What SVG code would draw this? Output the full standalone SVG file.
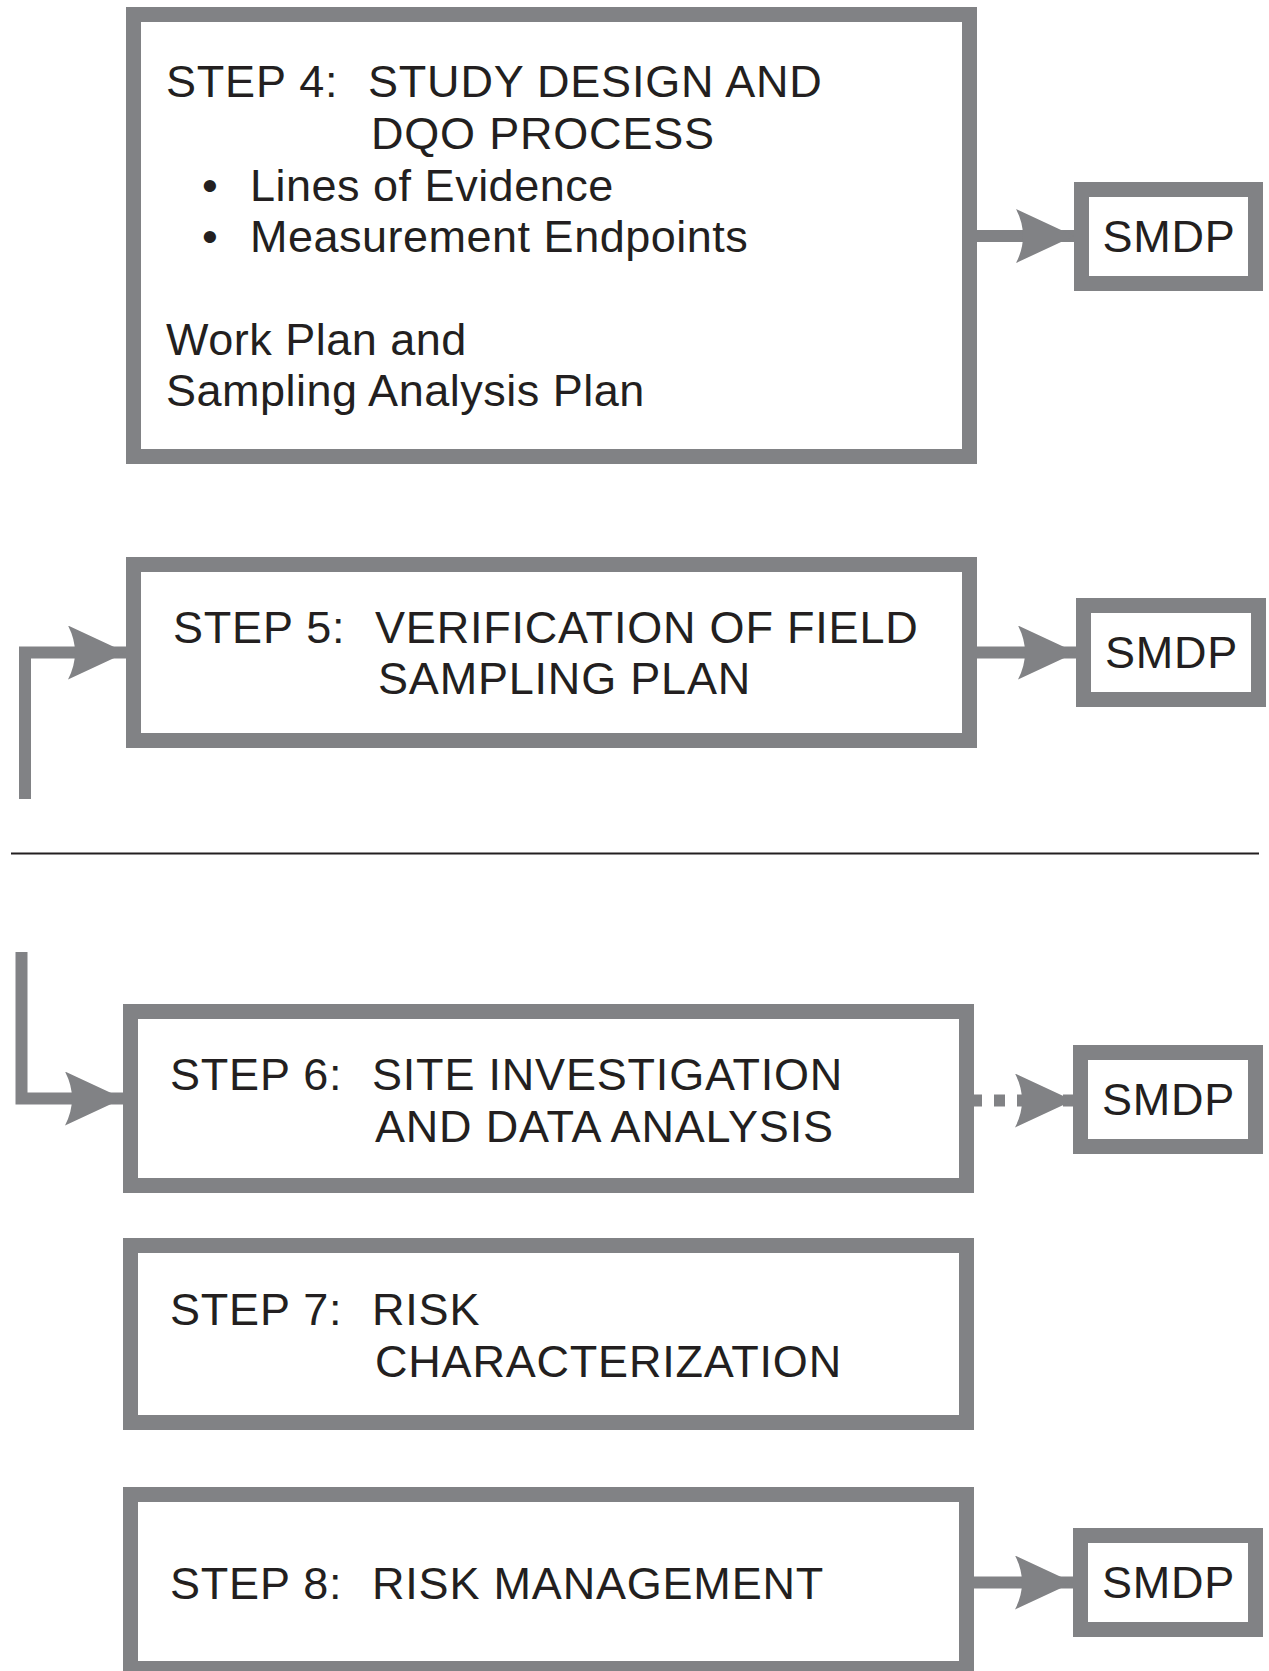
<svg xmlns="http://www.w3.org/2000/svg" width="1269" height="1671" viewBox="0 0 1269 1671">
  <style>
    .box { fill: #ffffff; stroke: #818285; stroke-width: 15; }
    .lbl { font-family: "Liberation Sans", Arial, sans-serif; font-size: 45px; letter-spacing: 0.8px; fill: #231f20; }
    .lower { letter-spacing: 0.5px; }
    .smdp { text-anchor: middle; }
    .wire { fill: none; stroke: #818285; stroke-width: 12; stroke-linejoin: miter; stroke-linecap: butt; }
    .dots { stroke-dasharray: 11 12; }
  </style>
  <defs>
    <marker id="head" viewBox="0 0 58 54" refX="58" refY="27" markerWidth="58" markerHeight="54" markerUnits="userSpaceOnUse" orient="auto">
      <path d="M58,27 L0,0 Q14,27 0,54 Z" fill="#818285"/>
    </marker>
  </defs>
  <rect width="1269" height="1671" fill="#ffffff"/>

  <!-- connectors -->
  <g id="connectors">
    <path class="wire" d="M977,236 H1074" marker-end="url(#head)"/>
    <path class="wire" d="M977,652.5 H1076" marker-end="url(#head)"/>
    <path class="wire" d="M25,799 V652.5 H126" marker-end="url(#head)"/>
    <path class="wire" d="M21.5,952 V1098.5 H123" marker-end="url(#head)"/>
    <path class="wire dots" d="M971,1100.5 H1073" marker-end="url(#head)"/>
    <path class="wire" d="M974,1582.5 H1073" marker-end="url(#head)"/>
    <line x1="11" y1="853.5" x2="1259" y2="853.5" stroke="#231f20" stroke-width="2"/>
  </g>

  <!-- step 4 -->
  <g id="step4">
    <rect class="box" x="133.5" y="14.5" width="836" height="442"/>
    <text class="lbl" x="166" y="97">STEP 4:</text>
    <text class="lbl" x="368" y="97">STUDY DESIGN AND</text>
    <text class="lbl" x="371" y="148.5">DQO PROCESS</text>
    <text class="lbl" x="202" y="200.5">•</text>
    <text class="lbl lower" x="250" y="200.5">Lines of Evidence</text>
    <text class="lbl" x="202" y="252">•</text>
    <text class="lbl lower" x="250" y="252">Measurement Endpoints</text>
    <text class="lbl lower" x="166" y="355">Work Plan and</text>
    <text class="lbl lower" x="166" y="406">Sampling Analysis Plan</text>
  </g>

  <!-- step 5 -->
  <g id="step5">
    <rect class="box" x="133.5" y="564.5" width="836" height="176"/>
    <text class="lbl" x="173" y="642.5">STEP 5:</text>
    <text class="lbl" x="375" y="642.5">VERIFICATION OF FIELD</text>
    <text class="lbl" x="378" y="694">SAMPLING PLAN</text>
  </g>

  <!-- step 6 -->
  <g id="step6">
    <rect class="box" x="130.5" y="1011.5" width="836" height="174"/>
    <text class="lbl" x="170" y="1090">STEP 6:</text>
    <text class="lbl" x="372" y="1090">SITE INVESTIGATION</text>
    <text class="lbl" x="375" y="1141.5">AND DATA ANALYSIS</text>
  </g>

  <!-- step 7 -->
  <g id="step7">
    <rect class="box" x="130.5" y="1245.5" width="836" height="177"/>
    <text class="lbl" x="170" y="1324.5">STEP 7:</text>
    <text class="lbl" x="372" y="1324.5">RISK</text>
    <text class="lbl" x="375" y="1376.5">CHARACTERIZATION</text>
  </g>

  <!-- step 8 -->
  <g id="step8">
    <rect class="box" x="130.5" y="1494.5" width="836" height="174"/>
    <text class="lbl" x="170" y="1598.5">STEP 8:</text>
    <text class="lbl" x="372" y="1598.5">RISK MANAGEMENT</text>
  </g>

  <!-- SMDP boxes -->
  <g id="smdp1">
    <rect class="box" x="1081.5" y="189.5" width="174" height="94"/>
    <text class="lbl smdp" x="1169" y="252">SMDP</text>
  </g>
  <g id="smdp2">
    <rect class="box" x="1083.5" y="605.5" width="175" height="94"/>
    <text class="lbl smdp" x="1171.5" y="668">SMDP</text>
  </g>
  <g id="smdp3">
    <rect class="box" x="1080.5" y="1052.5" width="175" height="94"/>
    <text class="lbl smdp" x="1168.5" y="1115">SMDP</text>
  </g>
  <g id="smdp4">
    <rect class="box" x="1080.5" y="1535.5" width="175" height="94"/>
    <text class="lbl smdp" x="1168.5" y="1598">SMDP</text>
  </g>
</svg>
